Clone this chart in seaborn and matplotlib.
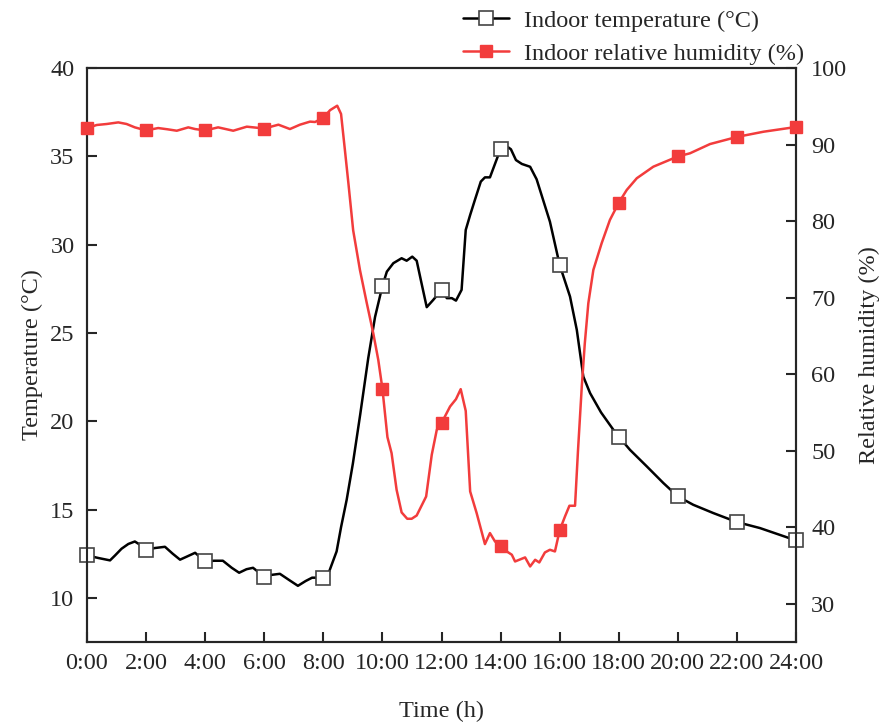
import numpy as np
import pandas as pd
import seaborn as sns
import matplotlib.pyplot as plt

# Indoor temperature (time in h, value in degC)
temp_time = [0.0, 0.4, 0.78, 0.95, 1.17, 1.4, 1.62, 1.8, 2.0, 2.3, 2.64, 2.9, 3.15, 3.4,
             3.66, 4.0, 4.3, 4.6, 4.9, 5.15, 5.4, 5.62, 6.0, 6.25, 6.53, 6.85, 7.14, 7.4,
             7.62, 8.0, 8.2, 8.45, 8.6, 8.79, 9.0, 9.25, 9.52, 9.75, 10.0,
             10.15, 10.37, 10.65, 10.82, 11.01, 11.16, 11.3, 11.5, 11.72, 12.0, 12.18,
             12.35, 12.49, 12.68, 12.82, 12.97, 13.13, 13.33, 13.47, 13.64, 14.0, 14.26,
             14.35, 14.52, 14.72, 15.0, 15.22, 15.67, 16.0, 16.35, 16.58, 16.8, 17.03,
             17.4, 17.82, 18.0, 18.38, 18.95, 19.51, 20.0, 20.52, 21.2, 22.0, 22.78, 24.0]
temp = [12.4, 12.25, 12.12, 12.4, 12.78, 13.05, 13.19, 13.0, 12.72, 12.82, 12.89, 12.5,
        12.16, 12.35, 12.55, 12.06, 12.1, 12.1, 11.7, 11.42, 11.62, 11.7, 11.2, 11.3,
        11.36, 11.0, 10.68, 10.95, 11.14, 11.14, 11.5, 12.63, 14.0, 15.55, 17.6, 20.4,
        23.57, 25.9, 27.66, 28.47, 28.95, 29.23, 29.09, 29.32, 29.09, 28.0, 26.46, 26.87,
        27.44, 26.97, 26.97, 26.83, 27.44, 30.83, 31.68, 32.53, 33.57, 33.81, 33.81,
        35.42, 35.51, 35.4, 34.79, 34.57, 34.41, 33.7, 31.3, 28.85, 27.06, 25.17, 22.53,
        21.59, 20.5, 19.51, 19.13, 18.38, 17.44, 16.5, 15.74, 15.27, 14.8, 14.29, 13.95,
        13.25]

# Indoor relative humidity (time in h, value in %)
rh_time = [0.0, 0.33, 0.67, 1.06, 1.34, 1.62, 2.0, 2.41, 2.72, 3.04, 3.43, 3.66, 4.0, 4.44,
           4.95, 5.41, 6.0, 6.48, 6.87, 7.21, 7.55, 7.72, 8.0, 8.23, 8.47, 8.6, 8.73, 8.85,
           9.01, 9.24, 9.47, 9.69, 9.86, 10.0, 10.17, 10.31, 10.48, 10.65, 10.84, 10.99,
           11.16, 11.48, 11.67, 11.84, 12.0, 12.29, 12.49, 12.65, 12.82, 12.97, 13.19,
           13.47, 13.64, 13.81, 14.0, 14.21, 14.38, 14.49, 14.83, 15.0, 15.17, 15.31, 15.5,
           15.67, 15.84, 16.0, 16.18, 16.33, 16.52, 16.62, 16.75, 16.85, 16.97, 17.14,
           17.42, 17.7, 18.0, 18.27, 18.61, 19.17, 20.0, 20.41, 21.09, 22.0, 22.9, 24.0]
rh = [92.15, 92.56, 92.69, 92.9, 92.69, 92.25, 91.85, 92.16, 92.0, 91.81, 92.25, 92.03,
      91.85, 92.25, 91.81, 92.34, 92.1, 92.6, 92.03, 92.6, 93.0, 92.95, 93.5, 94.5, 95.08,
      94.0, 89.3, 84.9, 78.8, 73.6, 69.3, 65.35, 61.86, 58.1, 51.77, 49.68, 44.89, 41.93,
      41.1, 41.1, 41.53, 44.01, 49.46, 52.72, 53.6, 55.77, 56.73, 58.04, 55.2, 44.67,
      41.84, 37.79, 39.23, 38.14, 37.5, 36.83, 36.4, 35.52, 36.05, 34.87, 35.74, 35.39,
      36.7, 37.05, 36.83, 39.6, 41.4, 42.8, 42.8, 50.0, 58.5, 64.0, 69.27, 73.62, 77.1,
      80.15, 82.4, 84.07, 85.6, 87.11, 88.45, 88.86, 90.07, 91.0, 91.68, 92.3]

hour_ticks = list(range(0, 25, 2))
hour_labels = [f"{h}:00" for h in hour_ticks]

sns.set_style("ticks")
plt.rcParams["font.family"] = ["Liberation Serif", "DejaVu Serif"]

fig, ax = plt.subplots(figsize=(8.83, 7.24), dpi=100)
fig.subplots_adjust(left=0.0985, right=0.9015, top=0.906, bottom=0.1133)
ax2 = ax.twinx()

red = "#f23c3c"
temp_marks = [i for i, t in enumerate(temp_time) if t % 2 == 0]
rh_marks = [i for i, t in enumerate(rh_time) if t % 2 == 0]

sns.lineplot(x=temp_time, y=temp, ax=ax, color="black", linewidth=1.8,
             marker="s", markersize=10, markevery=temp_marks,
             markerfacecolor="white", markeredgecolor="#444444", markeredgewidth=1.2,
             clip_on=False, zorder=3, label="Indoor temperature (°C)")
sns.lineplot(x=rh_time, y=rh, ax=ax2, color=red, linewidth=1.8,
             marker="s", markersize=9, markevery=rh_marks,
             markerfacecolor=red, markeredgecolor=red, markeredgewidth=1,
             clip_on=False, zorder=3, label="Indoor relative humidity (%)")

for a in (ax, ax2):
    if a.get_legend() is not None:
        a.get_legend().remove()

ax.set_xlim(0, 24)
ax.set_xticks(hour_ticks)
ax.set_xticklabels(hour_labels)
ax.set_ylim(7.5, 40)
ax.set_yticks(range(10, 41, 5))
ax2.set_ylim(25, 100)
ax2.set_yticks(range(30, 101, 10))

fs = 17.5
ax.set_xlabel("Time (h)", fontsize=fs, labelpad=19)
ax.set_ylabel("Temperature (°C)", fontsize=fs, labelpad=5)
ax2.set_ylabel("Relative humidity (%)", fontsize=fs, labelpad=8)

ax.tick_params(axis="x", direction="in", length=7, width=1.5, labelsize=fs, pad=8)
ax.tick_params(axis="y", direction="in", length=7, width=1.5, labelsize=fs, pad=9)
ax2.tick_params(axis="y", direction="in", length=7, width=1.5, labelsize=fs, pad=11)
for a in (ax, ax2):
    for s in a.spines.values():
        s.set_linewidth(1.5)
        s.set_visible(True)

h1, l1 = ax.get_legend_handles_labels()
h2, l2 = ax2.get_legend_handles_labels()
fig.legend(h1 + h2, l1 + l2, loc="upper right", bbox_to_anchor=(0.935, 1.017),
           frameon=False, fontsize=fs, handlelength=1.9, handletextpad=0.6,
           labelspacing=0.45)

fig.savefig("out.png", dpi=100)
